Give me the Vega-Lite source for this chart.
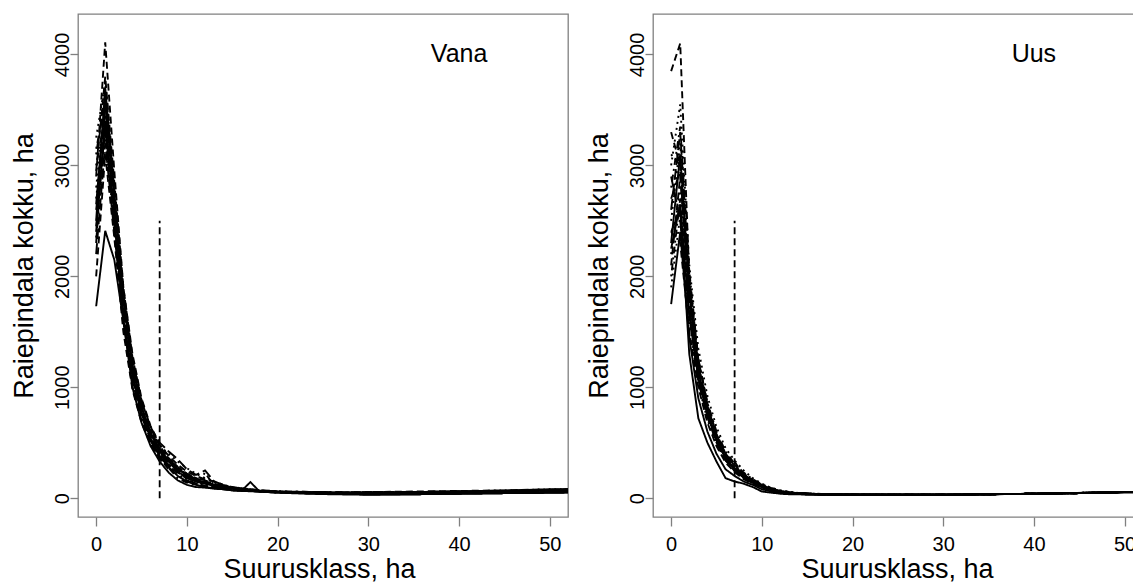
{
"$schema": "https://vega.github.io/schema/vega-lite/v6.json",
"background": "white",
"padding": {"left": 9, "top": 13, "right": 0, "bottom": 0},
"spacing": 15,
"config": {
  "font": "Liberation Sans",
  "view": {"stroke": "#808080", "strokeWidth": 1.3},
  "axis": {"grid": false, "domain": false, "tickColor": "#808080", "tickWidth": 1.3, "labelColor": "#000", "titleColor": "#000", "titleFontWeight": "normal", "labelFontSize": 20, "titleFontSize": 27, "labelFont": "Liberation Sans", "titleFont": "Liberation Sans", "labelFlush": false, "labelOverlap": false, "labelBound": false, "format": "d"},
  "axisX": {"tickSize": 9, "labelPadding": 8.5, "labelBaseline": "top", "labelAlign": "center", "labelAngle": 0, "titleY": 60, "titleBaseline": "alphabetic", "titleAlign": "center"},
  "axisY": {"tickSize": 8, "labelPadding": 2, "labelAngle": 270, "labelAlign": "center", "labelBaseline": "alphabetic", "titleX": -46, "titleY": 251.5, "titleAngle": 270, "titleAlign": "center", "titleBaseline": "alphabetic"}
},
"datasets": {
"vana": [
{"s":"1","x":0,"y":1730},{"s":"1","x":1,"y":2410},{"s":"1","x":2,"y":2150},{"s":"1","x":3,"y":1600},{"s":"1","x":4,"y":1100},{"s":"1","x":5,"y":760},{"s":"1","x":6,"y":540},{"s":"1","x":7,"y":380},{"s":"1","x":8,"y":280},{"s":"1","x":9,"y":200},{"s":"1","x":10,"y":150},{"s":"1","x":11,"y":120},{"s":"1","x":12,"y":100},{"s":"1","x":13,"y":90},{"s":"1","x":14,"y":80},{"s":"1","x":15,"y":70},{"s":"1","x":16,"y":65},{"s":"1","x":17,"y":62},{"s":"1","x":18,"y":58},{"s":"1","x":20,"y":50},{"s":"1","x":23,"y":45},{"s":"1","x":26,"y":40},{"s":"1","x":30,"y":35},{"s":"1","x":35,"y":35},{"s":"1","x":40,"y":40},{"s":"1","x":45,"y":45},{"s":"1","x":50,"y":50},{"s":"1","x":55,"y":55},
{"s":"2","x":0,"y":2900},{"s":"2","x":1,"y":4110},{"s":"2","x":2,"y":2950},{"s":"2","x":3,"y":1900},{"s":"2","x":4,"y":1300},{"s":"2","x":5,"y":900},{"s":"2","x":6,"y":650},{"s":"2","x":7,"y":480},{"s":"2","x":8,"y":380},{"s":"2","x":9,"y":300},{"s":"2","x":10,"y":240},{"s":"2","x":11,"y":200},{"s":"2","x":12,"y":170},{"s":"2","x":13,"y":150},{"s":"2","x":14,"y":120},{"s":"2","x":15,"y":100},{"s":"2","x":16,"y":90},{"s":"2","x":17,"y":80},{"s":"2","x":18,"y":72},{"s":"2","x":20,"y":62},{"s":"2","x":23,"y":55},{"s":"2","x":26,"y":52},{"s":"2","x":30,"y":55},{"s":"2","x":35,"y":60},{"s":"2","x":40,"y":65},{"s":"2","x":45,"y":70},{"s":"2","x":50,"y":80},{"s":"2","x":55,"y":85},
{"s":"3","x":0,"y":3250},{"s":"3","x":1,"y":3750},{"s":"3","x":2,"y":2800},{"s":"3","x":3,"y":1800},{"s":"3","x":4,"y":1200},{"s":"3","x":5,"y":850},{"s":"3","x":6,"y":620},{"s":"3","x":7,"y":470},{"s":"3","x":8,"y":400},{"s":"3","x":9,"y":330},{"s":"3","x":10,"y":270},{"s":"3","x":11,"y":220},{"s":"3","x":12,"y":180},{"s":"3","x":13,"y":150},{"s":"3","x":14,"y":120},{"s":"3","x":15,"y":100},{"s":"3","x":16,"y":90},{"s":"3","x":17,"y":80},{"s":"3","x":18,"y":70},{"s":"3","x":20,"y":60},{"s":"3","x":23,"y":52},{"s":"3","x":26,"y":48},{"s":"3","x":30,"y":45},{"s":"3","x":35,"y":45},{"s":"3","x":40,"y":50},{"s":"3","x":45,"y":55},{"s":"3","x":50,"y":60},{"s":"3","x":55,"y":60},
{"s":"4","x":0,"y":3100},{"s":"4","x":1,"y":3650},{"s":"4","x":2,"y":2700},{"s":"4","x":3,"y":1700},{"s":"4","x":4,"y":1100},{"s":"4","x":5,"y":760},{"s":"4","x":6,"y":540},{"s":"4","x":7,"y":400},{"s":"4","x":8,"y":300},{"s":"4","x":9,"y":220},{"s":"4","x":10,"y":160},{"s":"4","x":11,"y":130},{"s":"4","x":12,"y":110},{"s":"4","x":13,"y":100},{"s":"4","x":14,"y":90},{"s":"4","x":15,"y":80},{"s":"4","x":16,"y":75},{"s":"4","x":17,"y":70},{"s":"4","x":18,"y":65},{"s":"4","x":20,"y":58},{"s":"4","x":23,"y":50},{"s":"4","x":26,"y":45},{"s":"4","x":30,"y":45},{"s":"4","x":35,"y":45},{"s":"4","x":40,"y":50},{"s":"4","x":45,"y":55},{"s":"4","x":50,"y":60},{"s":"4","x":55,"y":60},
{"s":"5","x":0,"y":2300},{"s":"5","x":1,"y":3550},{"s":"5","x":2,"y":2600},{"s":"5","x":3,"y":1850},{"s":"5","x":4,"y":1250},{"s":"5","x":5,"y":880},{"s":"5","x":6,"y":640},{"s":"5","x":7,"y":500},{"s":"5","x":8,"y":420},{"s":"5","x":9,"y":350},{"s":"5","x":10,"y":260},{"s":"5","x":11,"y":210},{"s":"5","x":12,"y":250},{"s":"5","x":13,"y":150},{"s":"5","x":14,"y":120},{"s":"5","x":15,"y":95},{"s":"5","x":16,"y":80},{"s":"5","x":17,"y":72},{"s":"5","x":18,"y":66},{"s":"5","x":20,"y":56},{"s":"5","x":23,"y":50},{"s":"5","x":26,"y":45},{"s":"5","x":30,"y":50},{"s":"5","x":35,"y":50},{"s":"5","x":40,"y":55},{"s":"5","x":45,"y":60},{"s":"5","x":50,"y":65},{"s":"5","x":55,"y":70},
{"s":"6","x":0,"y":2400},{"s":"6","x":1,"y":3400},{"s":"6","x":2,"y":2550},{"s":"6","x":3,"y":1600},{"s":"6","x":4,"y":1000},{"s":"6","x":5,"y":680},{"s":"6","x":6,"y":470},{"s":"6","x":7,"y":330},{"s":"6","x":8,"y":230},{"s":"6","x":9,"y":160},{"s":"6","x":10,"y":120},{"s":"6","x":11,"y":100},{"s":"6","x":12,"y":95},{"s":"6","x":13,"y":85},{"s":"6","x":14,"y":80},{"s":"6","x":15,"y":70},{"s":"6","x":16,"y":65},{"s":"6","x":17,"y":145},{"s":"6","x":18,"y":60},{"s":"6","x":20,"y":50},{"s":"6","x":23,"y":40},{"s":"6","x":26,"y":35},{"s":"6","x":30,"y":30},{"s":"6","x":35,"y":35},{"s":"6","x":40,"y":40},{"s":"6","x":45,"y":45},{"s":"6","x":50,"y":50},{"s":"6","x":55,"y":55},
{"s":"7","x":0,"y":2600},{"s":"7","x":1,"y":3300},{"s":"7","x":2,"y":2450},{"s":"7","x":3,"y":1550},{"s":"7","x":4,"y":1000},{"s":"7","x":5,"y":700},{"s":"7","x":6,"y":500},{"s":"7","x":7,"y":360},{"s":"7","x":8,"y":260},{"s":"7","x":9,"y":250},{"s":"7","x":10,"y":170},{"s":"7","x":11,"y":130},{"s":"7","x":12,"y":110},{"s":"7","x":13,"y":100},{"s":"7","x":14,"y":90},{"s":"7","x":15,"y":80},{"s":"7","x":16,"y":70},{"s":"7","x":17,"y":65},{"s":"7","x":18,"y":60},{"s":"7","x":20,"y":55},{"s":"7","x":23,"y":50},{"s":"7","x":26,"y":50},{"s":"7","x":30,"y":55},{"s":"7","x":35,"y":55},{"s":"7","x":40,"y":60},{"s":"7","x":45,"y":65},{"s":"7","x":50,"y":75},{"s":"7","x":55,"y":80},
{"s":"8","x":0,"y":2800},{"s":"8","x":1,"y":3600},{"s":"8","x":2,"y":2650},{"s":"8","x":3,"y":1750},{"s":"8","x":4,"y":1150},{"s":"8","x":5,"y":820},{"s":"8","x":6,"y":600},{"s":"8","x":7,"y":450},{"s":"8","x":8,"y":360},{"s":"8","x":9,"y":280},{"s":"8","x":10,"y":210},{"s":"8","x":11,"y":160},{"s":"8","x":12,"y":130},{"s":"8","x":13,"y":120},{"s":"8","x":14,"y":100},{"s":"8","x":15,"y":90},{"s":"8","x":16,"y":80},{"s":"8","x":17,"y":70},{"s":"8","x":18,"y":62},{"s":"8","x":20,"y":55},{"s":"8","x":23,"y":50},{"s":"8","x":26,"y":45},{"s":"8","x":30,"y":45},{"s":"8","x":35,"y":50},{"s":"8","x":40,"y":55},{"s":"8","x":45,"y":60},{"s":"8","x":50,"y":65},{"s":"8","x":55,"y":65},
{"s":"9","x":0,"y":3000},{"s":"9","x":1,"y":3450},{"s":"9","x":2,"y":2500},{"s":"9","x":3,"y":1650},{"s":"9","x":4,"y":1080},{"s":"9","x":5,"y":750},{"s":"9","x":6,"y":520},{"s":"9","x":7,"y":360},{"s":"9","x":8,"y":270},{"s":"9","x":9,"y":180},{"s":"9","x":10,"y":140},{"s":"9","x":11,"y":120},{"s":"9","x":12,"y":230},{"s":"9","x":13,"y":110},{"s":"9","x":14,"y":90},{"s":"9","x":15,"y":80},{"s":"9","x":16,"y":70},{"s":"9","x":17,"y":65},{"s":"9","x":18,"y":60},{"s":"9","x":20,"y":50},{"s":"9","x":23,"y":45},{"s":"9","x":26,"y":40},{"s":"9","x":30,"y":40},{"s":"9","x":35,"y":45},{"s":"9","x":40,"y":50},{"s":"9","x":45,"y":55},{"s":"9","x":50,"y":60},{"s":"9","x":55,"y":60},
{"s":"10","x":0,"y":2200},{"s":"10","x":1,"y":3200},{"s":"10","x":2,"y":2400},{"s":"10","x":3,"y":1600},{"s":"10","x":4,"y":1050},{"s":"10","x":5,"y":740},{"s":"10","x":6,"y":520},{"s":"10","x":7,"y":380},{"s":"10","x":8,"y":300},{"s":"10","x":9,"y":260},{"s":"10","x":10,"y":220},{"s":"10","x":11,"y":170},{"s":"10","x":12,"y":140},{"s":"10","x":13,"y":120},{"s":"10","x":14,"y":110},{"s":"10","x":15,"y":95},{"s":"10","x":16,"y":85},{"s":"10","x":17,"y":70},{"s":"10","x":18,"y":60},{"s":"10","x":20,"y":52},{"s":"10","x":23,"y":45},{"s":"10","x":26,"y":45},{"s":"10","x":30,"y":50},{"s":"10","x":35,"y":55},{"s":"10","x":40,"y":60},{"s":"10","x":45,"y":65},{"s":"10","x":50,"y":70},{"s":"10","x":55,"y":75},
{"s":"11","x":0,"y":2500},{"s":"11","x":1,"y":3700},{"s":"11","x":2,"y":2750},{"s":"11","x":3,"y":1800},{"s":"11","x":4,"y":1200},{"s":"11","x":5,"y":820},{"s":"11","x":6,"y":580},{"s":"11","x":7,"y":430},{"s":"11","x":8,"y":330},{"s":"11","x":9,"y":240},{"s":"11","x":10,"y":180},{"s":"11","x":11,"y":150},{"s":"11","x":12,"y":130},{"s":"11","x":13,"y":110},{"s":"11","x":14,"y":95},{"s":"11","x":15,"y":85},{"s":"11","x":16,"y":75},{"s":"11","x":17,"y":70},{"s":"11","x":18,"y":65},{"s":"11","x":20,"y":55},{"s":"11","x":23,"y":45},{"s":"11","x":26,"y":40},{"s":"11","x":30,"y":35},{"s":"11","x":35,"y":35},{"s":"11","x":40,"y":40},{"s":"11","x":45,"y":45},{"s":"11","x":50,"y":50},{"s":"11","x":55,"y":55},
{"s":"12","x":0,"y":2000},{"s":"12","x":1,"y":3100},{"s":"12","x":2,"y":2350},{"s":"12","x":3,"y":1500},{"s":"12","x":4,"y":980},{"s":"12","x":5,"y":680},{"s":"12","x":6,"y":490},{"s":"12","x":7,"y":360},{"s":"12","x":8,"y":290},{"s":"12","x":9,"y":230},{"s":"12","x":10,"y":190},{"s":"12","x":11,"y":160},{"s":"12","x":12,"y":140},{"s":"12","x":13,"y":125},{"s":"12","x":14,"y":110},{"s":"12","x":15,"y":95},{"s":"12","x":16,"y":85},{"s":"12","x":17,"y":75},{"s":"12","x":18,"y":65},{"s":"12","x":20,"y":58},{"s":"12","x":23,"y":52},{"s":"12","x":26,"y":50},{"s":"12","x":30,"y":50},{"s":"12","x":35,"y":55},{"s":"12","x":40,"y":60},{"s":"12","x":45,"y":70},{"s":"12","x":50,"y":80},{"s":"12","x":55,"y":85},
{"s":"13","x":0,"y":2700},{"s":"13","x":1,"y":3500},{"s":"13","x":2,"y":2600},{"s":"13","x":3,"y":1750},{"s":"13","x":4,"y":1150},{"s":"13","x":5,"y":800},{"s":"13","x":6,"y":570},{"s":"13","x":7,"y":420},{"s":"13","x":8,"y":340},{"s":"13","x":9,"y":270},{"s":"13","x":10,"y":210},{"s":"13","x":11,"y":170},{"s":"13","x":12,"y":140},{"s":"13","x":13,"y":120},{"s":"13","x":14,"y":100},{"s":"13","x":15,"y":90},{"s":"13","x":16,"y":80},{"s":"13","x":17,"y":72},{"s":"13","x":18,"y":66},{"s":"13","x":20,"y":58},{"s":"13","x":30,"y":45},{"s":"13","x":40,"y":50},{"s":"13","x":50,"y":60},{"s":"13","x":55,"y":62},
{"s":"14","x":0,"y":3150},{"s":"14","x":1,"y":3550},{"s":"14","x":2,"y":2750},{"s":"14","x":3,"y":1850},{"s":"14","x":4,"y":1250},{"s":"14","x":5,"y":860},{"s":"14","x":6,"y":610},{"s":"14","x":7,"y":450},{"s":"14","x":8,"y":350},{"s":"14","x":9,"y":280},{"s":"14","x":10,"y":220},{"s":"14","x":11,"y":180},{"s":"14","x":12,"y":160},{"s":"14","x":13,"y":130},{"s":"14","x":14,"y":110},{"s":"14","x":15,"y":95},{"s":"14","x":16,"y":85},{"s":"14","x":17,"y":78},{"s":"14","x":18,"y":70},{"s":"14","x":20,"y":60},{"s":"14","x":30,"y":50},{"s":"14","x":40,"y":55},{"s":"14","x":50,"y":65},{"s":"14","x":55,"y":70},
{"s":"15","x":0,"y":2450},{"s":"15","x":1,"y":3350},{"s":"15","x":2,"y":2500},{"s":"15","x":3,"y":1700},{"s":"15","x":4,"y":1120},{"s":"15","x":5,"y":780},{"s":"15","x":6,"y":560},{"s":"15","x":7,"y":410},{"s":"15","x":8,"y":320},{"s":"15","x":9,"y":250},{"s":"15","x":10,"y":195},{"s":"15","x":11,"y":160},{"s":"15","x":12,"y":135},{"s":"15","x":13,"y":115},{"s":"15","x":14,"y":100},{"s":"15","x":15,"y":88},{"s":"15","x":16,"y":78},{"s":"15","x":17,"y":70},{"s":"15","x":18,"y":64},{"s":"15","x":20,"y":55},{"s":"15","x":30,"y":42},{"s":"15","x":40,"y":48},{"s":"15","x":50,"y":55},{"s":"15","x":55,"y":60},
{"s":"16","x":0,"y":2650},{"s":"16","x":1,"y":3600},{"s":"16","x":2,"y":2700},{"s":"16","x":3,"y":1780},{"s":"16","x":4,"y":1180},{"s":"16","x":5,"y":820},{"s":"16","x":6,"y":590},{"s":"16","x":7,"y":440},{"s":"16","x":8,"y":340},{"s":"16","x":9,"y":260},{"s":"16","x":10,"y":205},{"s":"16","x":11,"y":165},{"s":"16","x":12,"y":140},{"s":"16","x":13,"y":120},{"s":"16","x":14,"y":100},{"s":"16","x":15,"y":90},{"s":"16","x":16,"y":80},{"s":"16","x":17,"y":72},{"s":"16","x":18,"y":66},{"s":"16","x":20,"y":56},{"s":"16","x":30,"y":40},{"s":"16","x":40,"y":45},{"s":"16","x":50,"y":52},{"s":"16","x":55,"y":56},
{"s":"17","x":0,"y":2950},{"s":"17","x":1,"y":3800},{"s":"17","x":2,"y":2850},{"s":"17","x":3,"y":1900},{"s":"17","x":4,"y":1270},{"s":"17","x":5,"y":880},{"s":"17","x":6,"y":630},{"s":"17","x":7,"y":470},{"s":"17","x":8,"y":360},{"s":"17","x":9,"y":280},{"s":"17","x":10,"y":220},{"s":"17","x":11,"y":180},{"s":"17","x":12,"y":150},{"s":"17","x":13,"y":130},{"s":"17","x":14,"y":110},{"s":"17","x":15,"y":95},{"s":"17","x":16,"y":85},{"s":"17","x":17,"y":78},{"s":"17","x":18,"y":70},{"s":"17","x":20,"y":60},{"s":"17","x":30,"y":50},{"s":"17","x":40,"y":60},{"s":"17","x":50,"y":75},{"s":"17","x":55,"y":80},
{"s":"18","x":0,"y":2350},{"s":"18","x":1,"y":3250},{"s":"18","x":2,"y":2450},{"s":"18","x":3,"y":1650},{"s":"18","x":4,"y":1100},{"s":"18","x":5,"y":770},{"s":"18","x":6,"y":550},{"s":"18","x":7,"y":400},{"s":"18","x":8,"y":300},{"s":"18","x":9,"y":230},{"s":"18","x":10,"y":180},{"s":"18","x":11,"y":150},{"s":"18","x":12,"y":125},{"s":"18","x":13,"y":110},{"s":"18","x":14,"y":95},{"s":"18","x":15,"y":85},{"s":"18","x":16,"y":75},{"s":"18","x":17,"y":68},{"s":"18","x":18,"y":62},{"s":"18","x":20,"y":55},{"s":"18","x":30,"y":45},{"s":"18","x":40,"y":50},{"s":"18","x":50,"y":58},{"s":"18","x":55,"y":62}
],
"uus": [
{"s":"1","x":0,"y":2400},{"s":"1","x":1,"y":2600},{"s":"1","x":2,"y":1300},{"s":"1","x":3,"y":720},{"s":"1","x":4,"y":500},{"s":"1","x":5,"y":330},{"s":"1","x":6,"y":180},{"s":"1","x":7,"y":150},{"s":"1","x":8,"y":130},{"s":"1","x":9,"y":100},{"s":"1","x":10,"y":60},{"s":"1","x":11,"y":50},{"s":"1","x":12,"y":40},{"s":"1","x":13,"y":35},{"s":"1","x":14,"y":35},{"s":"1","x":15,"y":30},{"s":"1","x":16,"y":30},{"s":"1","x":17,"y":30},{"s":"1","x":18,"y":30},{"s":"1","x":20,"y":30},{"s":"1","x":23,"y":30},{"s":"1","x":26,"y":30},{"s":"1","x":30,"y":30},{"s":"1","x":35,"y":35},{"s":"1","x":40,"y":40},{"s":"1","x":45,"y":45},{"s":"1","x":50,"y":50},{"s":"1","x":55,"y":55},
{"s":"2","x":0,"y":3850},{"s":"2","x":1,"y":4100},{"s":"2","x":2,"y":2000},{"s":"2","x":3,"y":1250},{"s":"2","x":4,"y":850},{"s":"2","x":5,"y":580},{"s":"2","x":6,"y":400},{"s":"2","x":7,"y":290},{"s":"2","x":8,"y":210},{"s":"2","x":9,"y":160},{"s":"2","x":10,"y":115},{"s":"2","x":11,"y":85},{"s":"2","x":12,"y":65},{"s":"2","x":13,"y":50},{"s":"2","x":14,"y":45},{"s":"2","x":15,"y":40},{"s":"2","x":16,"y":40},{"s":"2","x":17,"y":35},{"s":"2","x":18,"y":35},{"s":"2","x":20,"y":35},{"s":"2","x":23,"y":30},{"s":"2","x":26,"y":30},{"s":"2","x":30,"y":30},{"s":"2","x":35,"y":35},{"s":"2","x":40,"y":40},{"s":"2","x":45,"y":45},{"s":"2","x":50,"y":55},{"s":"2","x":55,"y":60},
{"s":"3","x":0,"y":3000},{"s":"3","x":1,"y":3550},{"s":"3","x":2,"y":2100},{"s":"3","x":3,"y":1350},{"s":"3","x":4,"y":920},{"s":"3","x":5,"y":640},{"s":"3","x":6,"y":450},{"s":"3","x":7,"y":340},{"s":"3","x":8,"y":250},{"s":"3","x":9,"y":180},{"s":"3","x":10,"y":130},{"s":"3","x":11,"y":95},{"s":"3","x":12,"y":70},{"s":"3","x":13,"y":55},{"s":"3","x":14,"y":45},{"s":"3","x":15,"y":40},{"s":"3","x":16,"y":38},{"s":"3","x":17,"y":35},{"s":"3","x":18,"y":35},{"s":"3","x":20,"y":32},{"s":"3","x":23,"y":30},{"s":"3","x":26,"y":30},{"s":"3","x":30,"y":30},{"s":"3","x":35,"y":35},{"s":"3","x":40,"y":40},{"s":"3","x":45,"y":45},{"s":"3","x":50,"y":55},{"s":"3","x":55,"y":60},
{"s":"4","x":0,"y":2800},{"s":"4","x":1,"y":3350},{"s":"4","x":2,"y":2050},{"s":"4","x":3,"y":1250},{"s":"4","x":4,"y":840},{"s":"4","x":5,"y":570},{"s":"4","x":6,"y":390},{"s":"4","x":7,"y":280},{"s":"4","x":8,"y":200},{"s":"4","x":9,"y":150},{"s":"4","x":10,"y":110},{"s":"4","x":11,"y":85},{"s":"4","x":12,"y":65},{"s":"4","x":13,"y":50},{"s":"4","x":14,"y":45},{"s":"4","x":15,"y":40},{"s":"4","x":16,"y":38},{"s":"4","x":17,"y":35},{"s":"4","x":18,"y":35},{"s":"4","x":20,"y":32},{"s":"4","x":23,"y":30},{"s":"4","x":26,"y":30},{"s":"4","x":30,"y":30},{"s":"4","x":35,"y":35},{"s":"4","x":40,"y":40},{"s":"4","x":45,"y":48},{"s":"4","x":50,"y":55},{"s":"4","x":55,"y":60},
{"s":"5","x":0,"y":2600},{"s":"5","x":1,"y":3300},{"s":"5","x":2,"y":1950},{"s":"5","x":3,"y":1200},{"s":"5","x":4,"y":820},{"s":"5","x":5,"y":560},{"s":"5","x":6,"y":380},{"s":"5","x":7,"y":270},{"s":"5","x":8,"y":200},{"s":"5","x":9,"y":150},{"s":"5","x":10,"y":110},{"s":"5","x":11,"y":80},{"s":"5","x":12,"y":60},{"s":"5","x":13,"y":50},{"s":"5","x":14,"y":45},{"s":"5","x":15,"y":40},{"s":"5","x":16,"y":38},{"s":"5","x":17,"y":35},{"s":"5","x":18,"y":33},{"s":"5","x":20,"y":32},{"s":"5","x":23,"y":30},{"s":"5","x":26,"y":30},{"s":"5","x":30,"y":30},{"s":"5","x":35,"y":35},{"s":"5","x":40,"y":40},{"s":"5","x":45,"y":45},{"s":"5","x":50,"y":55},{"s":"5","x":55,"y":60},
{"s":"6","x":0,"y":2300},{"s":"6","x":1,"y":3100},{"s":"6","x":2,"y":1850},{"s":"6","x":3,"y":1150},{"s":"6","x":4,"y":780},{"s":"6","x":5,"y":530},{"s":"6","x":6,"y":360},{"s":"6","x":7,"y":260},{"s":"6","x":8,"y":190},{"s":"6","x":9,"y":140},{"s":"6","x":10,"y":100},{"s":"6","x":11,"y":75},{"s":"6","x":12,"y":60},{"s":"6","x":13,"y":48},{"s":"6","x":14,"y":42},{"s":"6","x":15,"y":38},{"s":"6","x":16,"y":35},{"s":"6","x":17,"y":33},{"s":"6","x":18,"y":32},{"s":"6","x":20,"y":30},{"s":"6","x":23,"y":30},{"s":"6","x":26,"y":28},{"s":"6","x":30,"y":30},{"s":"6","x":35,"y":35},{"s":"6","x":40,"y":40},{"s":"6","x":45,"y":45},{"s":"6","x":50,"y":55},{"s":"6","x":55,"y":60},
{"s":"7","x":0,"y":2100},{"s":"7","x":1,"y":2900},{"s":"7","x":2,"y":1800},{"s":"7","x":3,"y":1150},{"s":"7","x":4,"y":790},{"s":"7","x":5,"y":540},{"s":"7","x":6,"y":370},{"s":"7","x":7,"y":330},{"s":"7","x":8,"y":200},{"s":"7","x":9,"y":150},{"s":"7","x":10,"y":110},{"s":"7","x":11,"y":80},{"s":"7","x":12,"y":60},{"s":"7","x":13,"y":50},{"s":"7","x":14,"y":45},{"s":"7","x":15,"y":40},{"s":"7","x":16,"y":37},{"s":"7","x":17,"y":35},{"s":"7","x":18,"y":33},{"s":"7","x":20,"y":32},{"s":"7","x":23,"y":30},{"s":"7","x":26,"y":30},{"s":"7","x":30,"y":30},{"s":"7","x":35,"y":35},{"s":"7","x":40,"y":40},{"s":"7","x":45,"y":45},{"s":"7","x":50,"y":55},{"s":"7","x":55,"y":60},
{"s":"8","x":0,"y":2200},{"s":"8","x":1,"y":2800},{"s":"8","x":2,"y":1750},{"s":"8","x":3,"y":1100},{"s":"8","x":4,"y":760},{"s":"8","x":5,"y":520},{"s":"8","x":6,"y":360},{"s":"8","x":7,"y":260},{"s":"8","x":8,"y":190},{"s":"8","x":9,"y":140},{"s":"8","x":10,"y":100},{"s":"8","x":11,"y":75},{"s":"8","x":12,"y":60},{"s":"8","x":13,"y":48},{"s":"8","x":14,"y":42},{"s":"8","x":15,"y":38},{"s":"8","x":16,"y":35},{"s":"8","x":17,"y":33},{"s":"8","x":18,"y":32},{"s":"8","x":20,"y":30},{"s":"8","x":23,"y":30},{"s":"8","x":26,"y":30},{"s":"8","x":30,"y":30},{"s":"8","x":35,"y":35},{"s":"8","x":40,"y":40},{"s":"8","x":45,"y":45},{"s":"8","x":50,"y":55},{"s":"8","x":55,"y":60},
{"s":"9","x":0,"y":2000},{"s":"9","x":1,"y":2700},{"s":"9","x":2,"y":1700},{"s":"9","x":3,"y":1100},{"s":"9","x":4,"y":760},{"s":"9","x":5,"y":520},{"s":"9","x":6,"y":350},{"s":"9","x":7,"y":250},{"s":"9","x":8,"y":185},{"s":"9","x":9,"y":140},{"s":"9","x":10,"y":100},{"s":"9","x":11,"y":75},{"s":"9","x":12,"y":58},{"s":"9","x":13,"y":47},{"s":"9","x":14,"y":42},{"s":"9","x":15,"y":38},{"s":"9","x":16,"y":35},{"s":"9","x":17,"y":33},{"s":"9","x":18,"y":32},{"s":"9","x":20,"y":30},{"s":"9","x":23,"y":30},{"s":"9","x":26,"y":30},{"s":"9","x":30,"y":30},{"s":"9","x":35,"y":35},{"s":"9","x":40,"y":40},{"s":"9","x":45,"y":45},{"s":"9","x":50,"y":55},{"s":"9","x":55,"y":60},
{"s":"10","x":0,"y":2900},{"s":"10","x":1,"y":2500},{"s":"10","x":2,"y":1650},{"s":"10","x":3,"y":1050},{"s":"10","x":4,"y":730},{"s":"10","x":5,"y":500},{"s":"10","x":6,"y":340},{"s":"10","x":7,"y":245},{"s":"10","x":8,"y":180},{"s":"10","x":9,"y":135},{"s":"10","x":10,"y":100},{"s":"10","x":11,"y":75},{"s":"10","x":12,"y":58},{"s":"10","x":13,"y":47},{"s":"10","x":14,"y":42},{"s":"10","x":15,"y":38},{"s":"10","x":16,"y":35},{"s":"10","x":17,"y":33},{"s":"10","x":18,"y":32},{"s":"10","x":20,"y":30},{"s":"10","x":23,"y":30},{"s":"10","x":26,"y":30},{"s":"10","x":30,"y":30},{"s":"10","x":35,"y":35},{"s":"10","x":40,"y":40},{"s":"10","x":45,"y":45},{"s":"10","x":50,"y":55},{"s":"10","x":55,"y":60},
{"s":"11","x":0,"y":1750},{"s":"11","x":1,"y":2400},{"s":"11","x":2,"y":1450},{"s":"11","x":3,"y":900},{"s":"11","x":4,"y":600},{"s":"11","x":5,"y":400},{"s":"11","x":6,"y":260},{"s":"11","x":7,"y":200},{"s":"11","x":8,"y":150},{"s":"11","x":9,"y":120},{"s":"11","x":10,"y":80},{"s":"11","x":11,"y":60},{"s":"11","x":12,"y":50},{"s":"11","x":13,"y":42},{"s":"11","x":14,"y":38},{"s":"11","x":15,"y":35},{"s":"11","x":16,"y":33},{"s":"11","x":17,"y":32},{"s":"11","x":18,"y":31},{"s":"11","x":20,"y":30},{"s":"11","x":23,"y":30},{"s":"11","x":26,"y":30},{"s":"11","x":30,"y":30},{"s":"11","x":35,"y":35},{"s":"11","x":40,"y":40},{"s":"11","x":45,"y":45},{"s":"11","x":50,"y":55},{"s":"11","x":55,"y":60},
{"s":"12","x":0,"y":2400},{"s":"12","x":1,"y":2300},{"s":"12","x":2,"y":1500},{"s":"12","x":3,"y":1000},{"s":"12","x":4,"y":680},{"s":"12","x":5,"y":470},{"s":"12","x":6,"y":320},{"s":"12","x":7,"y":235},{"s":"12","x":8,"y":170},{"s":"12","x":9,"y":130},{"s":"12","x":10,"y":95},{"s":"12","x":11,"y":70},{"s":"12","x":12,"y":55},{"s":"12","x":13,"y":45},{"s":"12","x":14,"y":40},{"s":"12","x":15,"y":36},{"s":"12","x":16,"y":34},{"s":"12","x":17,"y":32},{"s":"12","x":18,"y":31},{"s":"12","x":20,"y":30},{"s":"12","x":23,"y":30},{"s":"12","x":26,"y":30},{"s":"12","x":30,"y":30},{"s":"12","x":35,"y":35},{"s":"12","x":40,"y":40},{"s":"12","x":45,"y":45},{"s":"12","x":50,"y":55},{"s":"12","x":55,"y":60},
{"s":"13","x":0,"y":2500},{"s":"13","x":1,"y":3200},{"s":"13","x":2,"y":1900},{"s":"13","x":3,"y":1180},{"s":"13","x":4,"y":800},{"s":"13","x":5,"y":550},{"s":"13","x":6,"y":380},{"s":"13","x":7,"y":280},{"s":"13","x":8,"y":210},{"s":"13","x":9,"y":160},{"s":"13","x":10,"y":120},{"s":"13","x":11,"y":90},{"s":"13","x":12,"y":70},{"s":"13","x":13,"y":55},{"s":"13","x":14,"y":47},{"s":"13","x":15,"y":42},{"s":"13","x":16,"y":38},{"s":"13","x":17,"y":35},{"s":"13","x":18,"y":34},{"s":"13","x":20,"y":32},{"s":"13","x":30,"y":30},{"s":"13","x":40,"y":40},{"s":"13","x":50,"y":55},{"s":"13","x":55,"y":60},
{"s":"14","x":0,"y":3100},{"s":"14","x":1,"y":3000},{"s":"14","x":2,"y":1950},{"s":"14","x":3,"y":1250},{"s":"14","x":4,"y":860},{"s":"14","x":5,"y":600},{"s":"14","x":6,"y":420},{"s":"14","x":7,"y":310},{"s":"14","x":8,"y":230},{"s":"14","x":9,"y":170},{"s":"14","x":10,"y":125},{"s":"14","x":11,"y":92},{"s":"14","x":12,"y":70},{"s":"14","x":13,"y":55},{"s":"14","x":14,"y":47},{"s":"14","x":15,"y":42},{"s":"14","x":16,"y":38},{"s":"14","x":17,"y":36},{"s":"14","x":18,"y":34},{"s":"14","x":20,"y":32},{"s":"14","x":30,"y":30},{"s":"14","x":40,"y":40},{"s":"14","x":50,"y":55},{"s":"14","x":55,"y":60},
{"s":"15","x":0,"y":2700},{"s":"15","x":1,"y":2950},{"s":"15","x":2,"y":1780},{"s":"15","x":3,"y":1120},{"s":"15","x":4,"y":770},{"s":"15","x":5,"y":530},{"s":"15","x":6,"y":370},{"s":"15","x":7,"y":270},{"s":"15","x":8,"y":200},{"s":"15","x":9,"y":150},{"s":"15","x":10,"y":110},{"s":"15","x":11,"y":82},{"s":"15","x":12,"y":62},{"s":"15","x":13,"y":50},{"s":"15","x":14,"y":44},{"s":"15","x":15,"y":40},{"s":"15","x":16,"y":37},{"s":"15","x":17,"y":35},{"s":"15","x":18,"y":33},{"s":"15","x":20,"y":31},{"s":"15","x":30,"y":30},{"s":"15","x":40,"y":40},{"s":"15","x":50,"y":55},{"s":"15","x":55,"y":60},
{"s":"16","x":0,"y":2250},{"s":"16","x":1,"y":2650},{"s":"16","x":2,"y":1650},{"s":"16","x":3,"y":1080},{"s":"16","x":4,"y":750},{"s":"16","x":5,"y":520},{"s":"16","x":6,"y":360},{"s":"16","x":7,"y":260},{"s":"16","x":8,"y":195},{"s":"16","x":9,"y":145},{"s":"16","x":10,"y":105},{"s":"16","x":11,"y":78},{"s":"16","x":12,"y":60},{"s":"16","x":13,"y":48},{"s":"16","x":14,"y":43},{"s":"16","x":15,"y":39},{"s":"16","x":16,"y":36},{"s":"16","x":17,"y":34},{"s":"16","x":18,"y":33},{"s":"16","x":20,"y":31},{"s":"16","x":30,"y":30},{"s":"16","x":40,"y":40},{"s":"16","x":50,"y":55},{"s":"16","x":55,"y":60},
{"s":"17","x":0,"y":3300},{"s":"17","x":1,"y":3000},{"s":"17","x":2,"y":1880},{"s":"17","x":3,"y":1200},{"s":"17","x":4,"y":830},{"s":"17","x":5,"y":570},{"s":"17","x":6,"y":400},{"s":"17","x":7,"y":300},{"s":"17","x":8,"y":220},{"s":"17","x":9,"y":165},{"s":"17","x":10,"y":120},{"s":"17","x":11,"y":88},{"s":"17","x":12,"y":66},{"s":"17","x":13,"y":52},{"s":"17","x":14,"y":45},{"s":"17","x":15,"y":41},{"s":"17","x":16,"y":38},{"s":"17","x":17,"y":35},{"s":"17","x":18,"y":34},{"s":"17","x":20,"y":32},{"s":"17","x":30,"y":30},{"s":"17","x":40,"y":40},{"s":"17","x":50,"y":55},{"s":"17","x":55,"y":60},
{"s":"18","x":0,"y":1900},{"s":"18","x":1,"y":2550},{"s":"18","x":2,"y":1600},{"s":"18","x":3,"y":1020},{"s":"18","x":4,"y":710},{"s":"18","x":5,"y":490},{"s":"18","x":6,"y":340},{"s":"18","x":7,"y":250},{"s":"18","x":8,"y":185},{"s":"18","x":9,"y":140},{"s":"18","x":10,"y":100},{"s":"18","x":11,"y":76},{"s":"18","x":12,"y":58},{"s":"18","x":13,"y":47},{"s":"18","x":14,"y":42},{"s":"18","x":15,"y":38},{"s":"18","x":16,"y":35},{"s":"18","x":17,"y":33},{"s":"18","x":18,"y":32},{"s":"18","x":20,"y":30},{"s":"18","x":30,"y":30},{"s":"18","x":40,"y":40},{"s":"18","x":50,"y":55},{"s":"18","x":55,"y":60}
]
},
"hconcat": [
{
  "width": 490, "height": 503,
  "encoding": {
    "x": {"field": "x", "type": "quantitative", "scale": {"domain": [-2, 52], "nice": false, "zero": false}, "axis": {"values": [0,10,20,30,40,50], "title": "Suurusklass, ha", "titleX": 241}},
    "y": {"field": "y", "type": "quantitative", "scale": {"domain": [-170, 4365], "nice": false, "zero": false}, "axis": {"values": [0,1000,2000,3000,4000], "title": "Raiepindala kokku, ha"}}
  },
  "layer": [
    {"data": {"name": "vana"}, "mark": {"type": "line", "clip": true, "strokeWidth": 1.9, "color": "black"},
     "encoding": {
       "detail": {"field": "s", "type": "nominal"},
       "strokeDash": {"field": "s", "type": "nominal", "legend": null, "scale": {"domain": ["1","2","3","4","5","6","7","8","9","10","11","12","13","14","15","16","17","18"], "range": [[1,0],[7,4],[2,4],[2,4,7,4],[11,4],[1,0],[7,4],[2,4],[2,4,7,4],[11,4],[1,0],[7,4],[2,4],[2,4,7,4],[11,4],[1,0],[7,4],[2,4]]}},
       "order": {"field": "x", "type": "quantitative"}
     }},
    {"data": {"values": [{"x": 7, "y": 0, "y2": 2500}]}, "mark": {"type": "rule", "strokeDash": [7,4], "strokeWidth": 1.8, "color": "black"},
     "encoding": {"y2": {"field": "y2"}}},
    {"data": {"values": [{"x": 40, "y": 4000, "t": "Vana"}]}, "mark": {"type": "text", "fontSize": 25, "align": "center", "baseline": "middle", "font": "Liberation Sans", "color": "black"},
     "encoding": {"text": {"field": "t"}}}
  ]
},
{
  "width": 482, "height": 503,
  "encoding": {
    "x": {"field": "x", "type": "quantitative", "scale": {"domain": [-2, 51.15], "nice": false, "zero": false}, "axis": {"values": [0,10,20,30,40,50], "title": "Suurusklass, ha", "titleX": 244}},
    "y": {"field": "y", "type": "quantitative", "scale": {"domain": [-170, 4365], "nice": false, "zero": false}, "axis": {"values": [0,1000,2000,3000,4000], "title": "Raiepindala kokku, ha"}}
  },
  "layer": [
    {"data": {"name": "uus"}, "mark": {"type": "line", "clip": true, "strokeWidth": 1.9, "color": "black"},
     "encoding": {
       "detail": {"field": "s", "type": "nominal"},
       "strokeDash": {"field": "s", "type": "nominal", "legend": null, "scale": {"domain": ["1","2","3","4","5","6","7","8","9","10","11","12","13","14","15","16","17","18"], "range": [[1,0],[7,4],[2,4],[2,4,7,4],[11,4],[1,0],[7,4],[2,4],[2,4,7,4],[11,4],[1,0],[7,4],[2,4],[2,4,7,4],[11,4],[1,0],[7,4],[2,4]]}},
       "order": {"field": "x", "type": "quantitative"}
     }},
    {"data": {"values": [{"x": 7, "y": 0, "y2": 2500}]}, "mark": {"type": "rule", "strokeDash": [7,4], "strokeWidth": 1.8, "color": "black"},
     "encoding": {"y2": {"field": "y2"}}},
    {"data": {"values": [{"x": 40, "y": 4000, "t": "Uus"}]}, "mark": {"type": "text", "fontSize": 25, "align": "center", "baseline": "middle", "font": "Liberation Sans", "color": "black"},
     "encoding": {"text": {"field": "t"}}}
  ]
}
]
}
